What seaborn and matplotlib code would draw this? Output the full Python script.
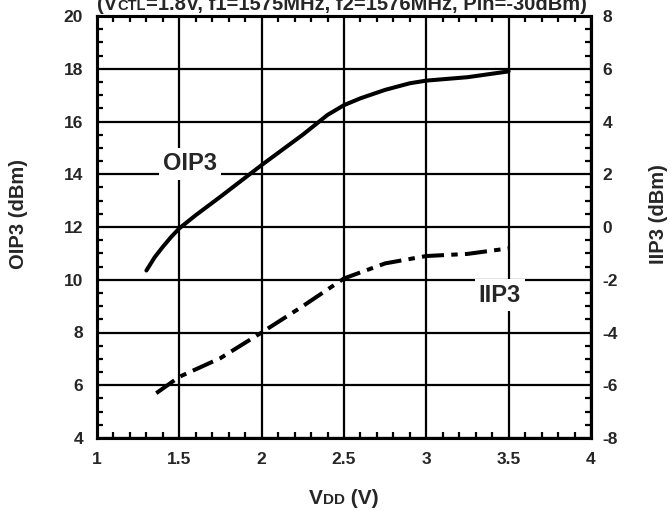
import matplotlib
matplotlib.use("Agg")
import matplotlib.pyplot as plt
import seaborn as sns
import pandas as pd
import numpy as np
from matplotlib.ticker import MultipleLocator

# ---- data ----
oip3_vdd = [1.30, 1.35, 1.40, 1.45, 1.50, 1.60, 1.75, 2.00, 2.25, 2.40, 2.50,
            2.60, 2.75, 2.90, 3.00, 3.25, 3.50]
oip3_dbm = [10.35, 10.85, 11.25, 11.62, 11.95, 12.45, 13.15, 14.35, 15.50, 16.25, 16.62,
            16.88, 17.20, 17.45, 17.55, 17.68, 17.90]

iip3_vdd = [1.36, 1.50, 1.75, 2.00, 2.25, 2.50, 2.75, 3.00, 3.25, 3.50]
iip3_dbm = [-6.30, -5.68, -4.97, -4.00, -3.00, -1.95, -1.38, -1.10, -1.02, -0.81]

x_ticks = [1, 1.5, 2, 2.5, 3, 3.5, 4]
x_tick_labels = ["1", "1.5", "2", "2.5", "3", "3.5", "4"]
left_ticks = [4, 6, 8, 10, 12, 14, 16, 18, 20]
right_ticks = [-8, -6, -4, -2, 0, 2, 4, 6, 8]

sns.set_style("white")
plt.rcParams["font.family"] = ["Liberation Sans", "DejaVu Sans"]
plt.rcParams["font.weight"] = "bold"
plt.rcParams["axes.unicode_minus"] = False

W, H = 671, 511
fig = plt.figure(figsize=(W / 100, H / 100), dpi=100)
ax = fig.add_axes([97 / W, 1 - 438 / H, (591 - 97) / W, (438 - 16) / H])
ax2 = ax.twinx()

df_o = pd.DataFrame({"vdd": oip3_vdd, "val": oip3_dbm})
df_i = pd.DataFrame({"vdd": iip3_vdd, "val": iip3_dbm})

sns.lineplot(data=df_o, x="vdd", y="val", ax=ax, color="black", lw=2.9,
             solid_capstyle="round", zorder=5)
sns.lineplot(data=df_i, x="vdd", y="val", ax=ax2, color="black", lw=2.9,
             dashes=False, zorder=5)
ax2.lines[0].set_dashes((5.5, 1.8, 1.6, 1.8))
ax2.lines[0].set_dash_capstyle("butt")

ax.set_xlim(1, 4)
ax.set_ylim(4, 20)
ax2.set_ylim(-8, 8)

ax.set_xticks(x_ticks)
ax.set_xticklabels(x_tick_labels)
ax.set_yticks(left_ticks)
ax2.set_yticks(right_ticks)
ax.xaxis.set_minor_locator(MultipleLocator(0.1))
ax.yaxis.set_minor_locator(MultipleLocator(0.5))
ax2.yaxis.set_minor_locator(MultipleLocator(0.5))

ax.grid(True, which="major", color="black", lw=1.6)
ax.set_axisbelow(True)
for a in (ax, ax2):
    for s in a.spines.values():
        s.set_color("black")
        s.set_linewidth(2.2)
    a.set_xlabel("")
    a.set_ylabel("")

ax.tick_params(axis="both", which="both", direction="in", color="black",
               top=True, bottom=True, left=True, right=False, width=1.6)
ax.tick_params(axis="both", which="major", length=0, labelsize=12.5)
ax.tick_params(axis="both", which="minor", length=4)
ax.tick_params(axis="x", which="major", pad=10)
ax.tick_params(axis="y", which="major", pad=10)
ax2.tick_params(axis="y", which="both", direction="in", color="black", width=1.6)
ax2.tick_params(axis="y", which="major", length=0, labelsize=12.5, pad=8.5)
ax2.tick_params(axis="y", which="minor", length=4)
for lab in ax.get_xticklabels() + ax.get_yticklabels() + ax2.get_yticklabels():
    lab.set_fontweight("bold")

# in-plot labels
ax.text(1.565, 14.39, "OIP3", fontsize=17, fontweight="bold", ha="center", va="center",
        bbox=dict(facecolor="white", edgecolor="none", pad=3), zorder=6)
ax.text(3.447, 9.42, "IIP3", fontsize=17, fontweight="bold", ha="center", va="center",
        bbox=dict(facecolor="white", edgecolor="none", pad=3), zorder=6)

# axis labels
fig.text(19 / W, 1 - 214 / H, "OIP3 (dBm)", rotation=90, fontsize=14.5,
         fontweight="bold", ha="center", va="center")
fig.text(658 / W, 1 - 214 / H, "IIP3 (dBm)", rotation=90, fontsize=14.5,
         fontweight="bold", ha="center", va="center")

renderer = fig.canvas.get_renderer()


def rich_text(cx_px, base_px, parts):
    objs = []
    for txt, size in parts:
        t = fig.text(0, 1 - base_px / H, txt, fontsize=size, fontweight="bold",
                     ha="left", va="baseline")
        objs.append(t)
    widths = [o.get_window_extent(renderer).width for o in objs]
    x = cx_px - sum(widths) / 2
    for o, w in zip(objs, widths):
        o.set_x(x / W)
        x += w


rich_text(344, 504, [("V", 15), ("DD", 11), (" (V)", 15)])
rich_text(342, 10, [("(V", 14.5), ("CTL", 10.5), ("=1.8V, f1=1575MHz, f2=1576MHz, Pin=-30dBm)", 14.5)])

fig.savefig("out.png", dpi=100)
